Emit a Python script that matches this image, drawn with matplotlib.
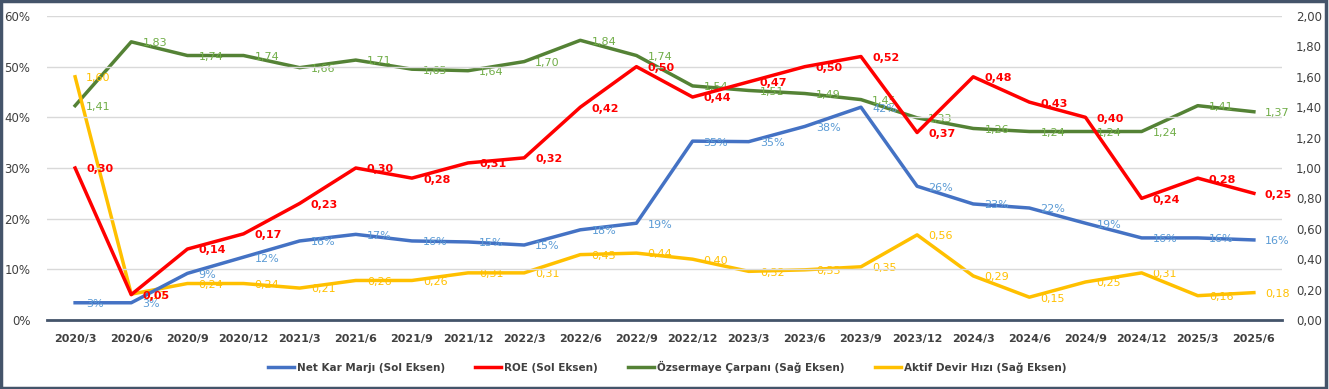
import matplotlib.pyplot as plt
from matplotlib.patches import Rectangle
from matplotlib.ticker import FuncFormatter

plt.rcParams['font.family'] = ['DejaVu Sans']

periods = ['2020/3', '2020/6', '2020/9', '2020/12', '2021/3', '2021/6', '2021/9', '2021/12',
           '2022/3', '2022/6', '2022/9', '2022/12', '2023/3', '2023/6', '2023/9', '2023/12',
           '2024/3', '2024/6', '2024/9', '2024/12', '2025/3', '2025/6']
net_kar_marji = [0.034, 0.034, 0.092, 0.124, 0.156, 0.169, 0.156, 0.154, 0.148, 0.178, 0.191,
                 0.353, 0.352, 0.382, 0.420, 0.264, 0.229, 0.221, 0.191, 0.162, 0.162, 0.158]
roe = [0.30, 0.05, 0.14, 0.17, 0.23, 0.30, 0.28, 0.31, 0.32, 0.42, 0.50,
       0.44, 0.47, 0.50, 0.52, 0.37, 0.48, 0.43, 0.40, 0.24, 0.28, 0.25]
ozsermaye = [1.41, 1.83, 1.74, 1.74, 1.66, 1.71, 1.65, 1.64, 1.70, 1.84, 1.74,
             1.54, 1.51, 1.49, 1.45, 1.33, 1.26, 1.24, 1.24, 1.24, 1.41, 1.37]
aktif_devir = [1.60, 0.17, 0.24, 0.24, 0.21, 0.26, 0.26, 0.31, 0.31, 0.43, 0.44,
               0.40, 0.32, 0.33, 0.35, 0.56, 0.29, 0.15, 0.25, 0.31, 0.16, 0.18]

c_blue, c_blue_lbl = '#4472C4', '#5B9BD5'
c_red = '#FF0000'
c_green, c_green_lbl = '#548235', '#70AD47'
c_yellow = '#FFC000'

fig = plt.figure(figsize=(13.29, 3.89), dpi=100)
fig.patches.append(Rectangle((0.001, 0.002), 0.997, 0.995, transform=fig.transFigure,
                             fill=False, edgecolor='#44546A', linewidth=2.5))
ax = fig.add_axes([0.0354, 0.1774, 0.9292, 0.7815])
ax2 = ax.twinx()

x = list(range(len(periods)))
ax.plot(x, net_kar_marji, color=c_blue, lw=2.5, label='Net Kar Marjı (Sol Eksen)', zorder=3)
ax.plot(x, roe, color=c_red, lw=2.5, label='ROE (Sol Eksen)', zorder=3)
ax2.plot(x, ozsermaye, color=c_green, lw=2.5, label='Özsermaye Çarpanı (Sağ Eksen)')
ax2.plot(x, aktif_devir, color=c_yellow, lw=2.5, label='Aktif Devir Hızı (Sağ Eksen)')

ax.set_xlim(-0.5, len(periods) - 0.5)
ax.set_ylim(0, 0.6)
ax2.set_ylim(0, 2.0)
ax.set_yticks([i / 10 for i in range(7)])
ax2.set_yticks([i / 5 for i in range(11)])
ax.yaxis.set_major_formatter(FuncFormatter(lambda v, p: f'{v * 100:.0f}%'))
ax2.yaxis.set_major_formatter(FuncFormatter(lambda v, p: f'{v:.2f}'.replace('.', ',')))
ax.set_xticks(x)
ax.set_xticklabels(periods, fontsize=8, fontweight='bold', color='#404040')
ax.tick_params(axis='y', labelsize=8.5, colors='#404040', length=0, pad=12)
ax2.tick_params(axis='y', labelsize=8.5, colors='#404040', length=0, pad=10)
ax.tick_params(axis='x', length=0, pad=10)
ax.grid(axis='y', color='#D9D9D9', lw=1)
ax.set_axisbelow(True)
for a in (ax, ax2):
    for s in ('top', 'left', 'right'):
        a.spines[s].set_visible(False)
ax.spines['bottom'].set_color('#44546A')
ax.spines['bottom'].set_linewidth(2)
ax2.spines['bottom'].set_visible(False)
ax.set_zorder(ax2.get_zorder() + 1)
ax.patch.set_visible(False)

def fmt(v):
    return f'{v:.2f}'.replace('.', ',')

for i in x:
    ax.annotate(f'{net_kar_marji[i] * 100:.0f}%', (i, net_kar_marji[i]), xytext=(8, -1),
                textcoords='offset points', fontsize=8, color=c_blue_lbl, va='center')
    ax.annotate(fmt(roe[i]), (i, roe[i]), xytext=(8, -1), textcoords='offset points',
                fontsize=8, color=c_red, fontweight='bold', va='center')
    ax2.annotate(fmt(ozsermaye[i]), (i, ozsermaye[i]), xytext=(8, -1), textcoords='offset points',
                 fontsize=8, color=c_green_lbl, va='center')
    ax2.annotate(fmt(aktif_devir[i]), (i, aktif_devir[i]), xytext=(8, -1), textcoords='offset points',
                 fontsize=8, color=c_yellow, va='center')

h1, l1 = ax.get_legend_handles_labels()
h2, l2 = ax2.get_legend_handles_labels()
leg = fig.legend(h1 + h2, l1 + l2, loc='center', bbox_to_anchor=(0.502, 0.057), ncol=4,
                 frameon=False, fontsize=7.5, handlelength=2.5, columnspacing=2.9, handletextpad=0.3)
for t in leg.get_texts():
    t.set_color('#404040')
    t.set_fontweight('bold')

fig.savefig('out.png', dpi=100)
